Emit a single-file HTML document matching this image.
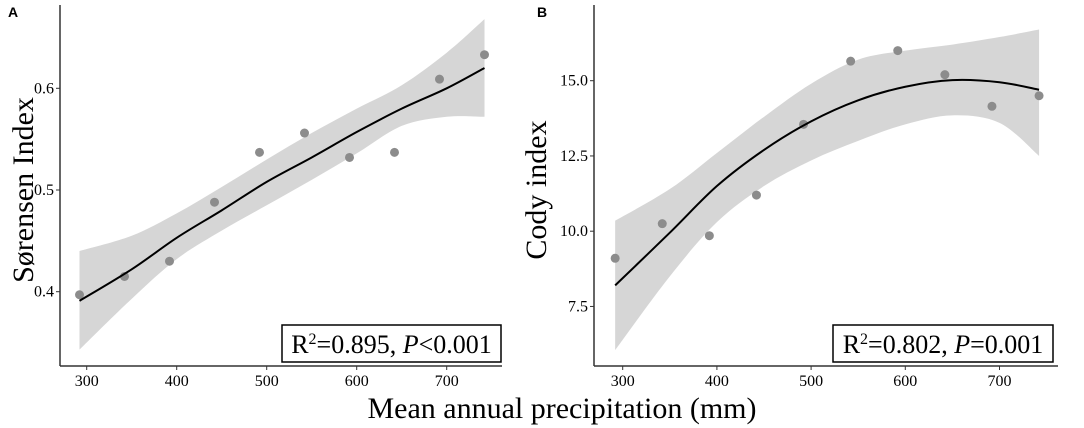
<!DOCTYPE html>
<html><head><meta charset="utf-8"><style>
body{margin:0;background:#fff}
svg{display:block}
text{font-family:"Liberation Serif",serif}
</style></head><body>
<svg id="c" width="1084" height="428"></svg>
<script>
const xs=[292,342,392,442,492,542,592,642,692,742];
const sorY=[0.397,0.415,0.430,0.488,0.537,0.556,0.532,0.537,0.609,0.633];
const codyY=[9.1,10.25,9.85,11.2,13.55,15.65,16.0,15.2,14.15,14.5];
const fitX=[292,350,400,450,500,550,600,650,700,742];
const sorFit=[0.391,0.422,0.453,0.480,0.508,0.532,0.557,0.580,0.600,0.620];
const sorUp=[0.440,0.455,0.477,0.503,0.530,0.556,0.580,0.603,0.635,0.668];
const sorLo=[0.343,0.393,0.432,0.460,0.485,0.510,0.536,0.563,0.572,0.572];
const codyFit=[8.2,9.95,11.5,12.7,13.65,14.35,14.8,15.02,14.95,14.7];
const codyUp=[10.35,11.4,12.6,13.8,14.9,15.7,16.0,16.2,16.45,16.7];
const codyLo=[6.05,8.5,10.3,11.5,12.35,13.0,13.55,13.85,13.6,12.5];
const xTicks=[300,400,500,600,700];
const sorTicks=[0.4,0.5,0.6];
const codyTicks=[7.5,10.0,12.5,15.0];
const NS="http://www.w3.org/2000/svg";
const svg=document.getElementById('c');
function mk(t,a,p){const e=document.createElementNS(NS,t);for(const k in a)e.setAttribute(k,a[k]);(p||svg).appendChild(e);return e;}
function smooth(P,start){
  let d=(start?'M':'L')+P[0][0]+','+P[0][1];
  for(let i=0;i<P.length-1;i++){
    const p0=P[Math.max(i-1,0)],p1=P[i],p2=P[i+1],p3=P[Math.min(i+2,P.length-1)];
    d+='C'+(p1[0]+(p2[0]-p0[0])/6)+','+(p1[1]+(p2[1]-p0[1])/6)+' '+(p2[0]-(p3[0]-p1[0])/6)+','+(p2[1]-(p3[1]-p1[1])/6)+' '+p2[0]+','+p2[1];
  }
  return d;
}
function panel(o){
  const g=mk('g',{});
  
  
  const X=v=>o.x0+(v-300)*o.xs, Y=v=>o.y0-(v-o.yref)*o.ys;
  const upP=fitX.map((v,i)=>[X(v),Y(o.up[i])]);
  const loP=fitX.map((v,i)=>[X(v),Y(o.lo[i])]).reverse();
  const band=mk('path',{d:smooth(upP,true)+smooth(loP,false)+'Z',fill:'#d6d6d6'},g);
  
  
  xs.forEach((v,i)=>{const c=mk('circle',{cx:X(v),cy:Y(o.pts[i]),r:4.5,fill:'#8c8c8c'},g);
    
    });
  const ln=mk('path',{d:smooth(fitX.map((v,i)=>[X(v),Y(o.fit[i])]),true),fill:'none',stroke:'#000','stroke-width':2},g);
  
  
  mk('line',{x1:o.ax,y1:5,x2:o.ax,y2:o.ay,stroke:'#333','stroke-width':1.5},g);
  mk('line',{x1:o.ax,y1:o.ay,x2:o.ar,y2:o.ay,stroke:'#333','stroke-width':1.5},g);
  xTicks.forEach(t=>{mk('line',{x1:X(t),y1:o.ay,x2:X(t),y2:o.ay+4,stroke:'#333'},g);
    const tx=mk('text',{x:X(t),y:o.ay+20,'text-anchor':'middle','font-size':16},g);tx.textContent=t;
    
    });
  o.ticks.forEach(t=>{mk('line',{x1:o.ax-4,y1:Y(t),x2:o.ax,y2:Y(t),stroke:'#333'},g);
    const tx=mk('text',{x:o.ax-6,y:Y(t)+5,'text-anchor':'end','font-size':16},g);tx.textContent=t.toFixed(1);
    
    });
  const yt=mk('text',{x:0,y:0,'text-anchor':'middle','font-size':30,transform:`translate(${o.tx},190) rotate(-90)`},g);
  yt.textContent=o.title;
  
  
  mk('rect',{x:o.bx,y:325,width:o.bw,height:37,fill:'#fff',stroke:'#000','stroke-width':1.5},g);
  const st=mk('text',{x:o.bx+o.bw/2,y:353,'text-anchor':'middle','font-size':26},g);
  st.innerHTML=o.stat;
  
  
  const pl=mk('text',{x:o.lx,y:17,'font-size':14,'font-weight':'bold',style:'font-family:"Liberation Sans",sans-serif'},g);
  pl.textContent=o.letter;
  
  
}
panel({name:'panel-a',x0:86.7,xs:0.9,y0:291.7,yref:0.4,ys:1017,pts:sorY,fit:sorFit,up:sorUp,lo:sorLo,ax:60,ay:366,ar:502,ticks:sorTicks,tx:33,title:'Sørensen Index',bx:282,bw:219,stat:'R<tspan font-size="16" dy="-9">2</tspan><tspan dy="9">=0.895, </tspan><tspan font-style="italic">P</tspan>&lt;0.001',letter:'A',lx:8});
panel({name:'panel-b',x0:622.7,xs:0.942,y0:80.7,yref:15,ys:30.1,pts:codyY,fit:codyFit,up:codyUp,lo:codyLo,ax:594,ay:366,ar:1058,ticks:codyTicks,tx:546,title:'Cody index',bx:833,bw:220,stat:'R<tspan font-size="16" dy="-9">2</tspan><tspan dy="9">=0.802, </tspan><tspan font-style="italic">P</tspan>=0.001',letter:'B',lx:537});
const xt=mk('text',{x:562,y:418,'text-anchor':'middle','font-size':30});
xt.textContent='Mean annual precipitation (mm)';


</script>
</body></html>
